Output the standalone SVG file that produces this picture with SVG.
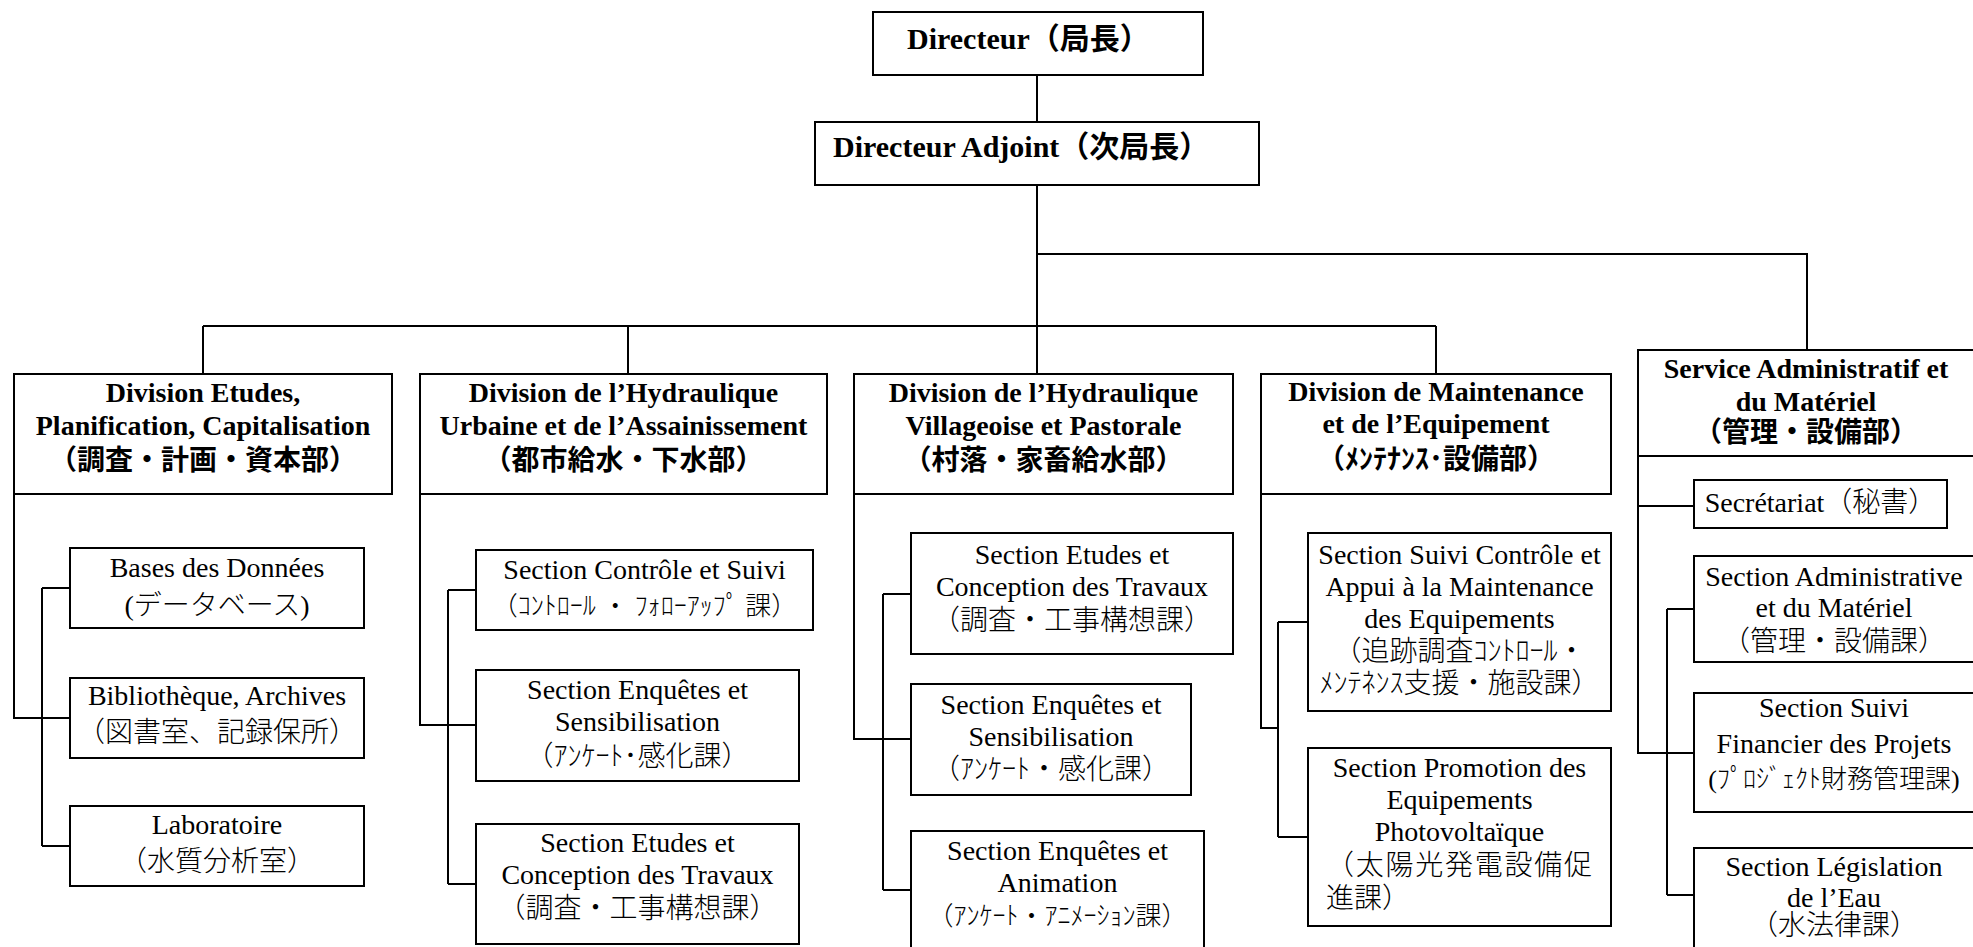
<svg xmlns="http://www.w3.org/2000/svg" width="1973" height="947" viewBox="0 0 1973 947">
<style>
.box{fill:#fff;stroke:#000;stroke-width:2}
.ln{fill:none;stroke:#000;stroke-width:2}
text{font-family:"Liberation Serif","Noto Sans CJK JP",serif;fill:#000;text-anchor:middle}
.b{font-weight:bold;font-size:28px}
.r{font-size:28px;font-weight:300}
.st{text-anchor:start}
</style>
<rect width="1973" height="947" fill="#fff"/>
<g id="connectors">
<path class="ln" d="M1037 75V122M1037 185V374M1037 254H1807V350M203 326H1436M203 326V374M628 326V374M1436 326V374"/>
<path class="ln" d="M14 494V718H70M42 588V846M42 588H70M42 846H70"/>
<path class="ln" d="M420 494V725H476M448 590V884M448 590H476M448 884H476"/>
<path class="ln" d="M854 494V739H911M883 594V890M883 594H911M883 890H911"/>
<path class="ln" d="M1261 494V728H1278M1278 622V837M1278 622H1308M1278 837H1308"/>
<path class="ln" d="M1638 456V753H1694M1638 506H1694M1667 609V895M1667 609H1694M1667 895H1694"/>
</g>
<g id="directeur"><rect class="box" x="873" y="12" width="330" height="63"/><text class="b st" x="907" y="49" style="font-size:30px">Directeur（局長）</text></g>
<g id="directeur-adjoint"><rect class="box" x="815" y="122" width="444" height="63"/><text class="b st" x="833" y="157" style="font-size:30px">Directeur Adjoint（次局長）</text></g>
<g id="div-etudes"><rect class="box" x="14" y="374" width="378" height="120"/>
<text class="b" x="203" y="402">Division Etudes,</text><text class="b" x="203" y="435">Planification, Capitalisation</text><text class="b" x="203" y="470">（調査・計画・資本部）</text></g>
<g id="div-urbaine"><rect class="box" x="420" y="374" width="407" height="120"/>
<text class="b" x="623.5" y="402">Division de l’Hydraulique</text><text class="b" x="623.5" y="435">Urbaine et de l’Assainissement</text><text class="b" x="623.5" y="470">（都市給水・下水部）</text></g>
<g id="div-villageoise"><rect class="box" x="854" y="374" width="379" height="120"/>
<text class="b" x="1043.5" y="402">Division de l’Hydraulique</text><text class="b" x="1043.5" y="435">Villageoise et Pastorale</text><text class="b" x="1043.5" y="470">（村落・家畜給水部）</text></g>
<g id="div-maintenance"><rect class="box" x="1261" y="374" width="350" height="120"/>
<text class="b" x="1436" y="401">Division de Maintenance</text><text class="b" x="1436" y="433">et de l’Equipement</text><text class="b" x="1436" y="469">（ﾒﾝﾃﾅﾝｽ･設備部）</text></g>
<g id="service-admin"><rect class="box" x="1638" y="350" width="340" height="106"/>
<text class="b" x="1806" y="378">Service Administratif et</text><text class="b" x="1806" y="411">du Matériel</text><text class="b" x="1806" y="442">（管理・設備部）</text></g>
<g id="bases-donnees"><rect class="box" x="70" y="548" width="294" height="80"/>
<text class="r" x="217" y="577">Bases des Données</text><text class="r" x="217" y="615">(データベース)</text></g>
<g id="bibliotheque"><rect class="box" x="70" y="678" width="294" height="80"/>
<text class="r" x="217" y="705">Bibliothèque, Archives</text><text class="r" x="217" y="742">（図書室、記録保所）</text></g>
<g id="laboratoire"><rect class="box" x="70" y="806" width="294" height="80"/>
<text class="r" x="217" y="834">Laboratoire</text><text class="r" x="217" y="871">（水質分析室）</text></g>
<g id="u-controle"><rect class="box" x="476" y="550" width="337" height="80"/>
<text class="r" x="644.5" y="579">Section Contrôle et Suivi</text><text class="r" x="644.5" y="615" style="font-size:26px">（ｺﾝﾄﾛｰﾙ ・ ﾌｫﾛｰｱｯﾌﾟ 課）</text></g>
<g id="u-enquetes"><rect class="box" x="476" y="670" width="323" height="111"/>
<text class="r" x="637.5" y="699">Section Enquêtes et</text><text class="r" x="637.5" y="731">Sensibilisation</text><text class="r" x="637.5" y="766">（ｱﾝｹｰﾄ･感化課）</text></g>
<g id="u-etudes"><rect class="box" x="476" y="824" width="323" height="120"/>
<text class="r" x="637.5" y="852">Section Etudes et</text><text class="r" x="637.5" y="884">Conception des Travaux</text><text class="r" x="637.5" y="918">（調査・工事構想課）</text></g>
<g id="v-etudes"><rect class="box" x="911" y="533" width="322" height="121"/>
<text class="r" x="1072" y="564">Section Etudes et</text><text class="r" x="1072" y="596">Conception des Travaux</text><text class="r" x="1072" y="630">（調査・工事構想課）</text></g>
<g id="v-enquetes"><rect class="box" x="911" y="684" width="280" height="111"/>
<text class="r" x="1051" y="714">Section Enquêtes et</text><text class="r" x="1051" y="746">Sensibilisation</text><text class="r" x="1051" y="779">（ｱﾝｹｰﾄ・感化課）</text></g>
<g id="v-animation"><rect class="box" x="911" y="831" width="293" height="130"/>
<text class="r" x="1057.5" y="860">Section Enquêtes et</text><text class="r" x="1057.5" y="892">Animation</text><text class="r" x="1057.5" y="925" style="font-size:26px">（ｱﾝｹｰﾄ・ｱﾆﾒｰｼｮﾝ課）</text></g>
<g id="m-suivi"><rect class="box" x="1308" y="533" width="303" height="178"/>
<text class="r" x="1459.5" y="564">Section Suivi Contrôle et</text><text class="r" x="1459.5" y="596">Appui à la Maintenance</text><text class="r" x="1459.5" y="628">des Equipements</text><text class="r" x="1459.5" y="661">（追跡調査ｺﾝﾄﾛｰﾙ・</text><text class="r" x="1459.5" y="693">ﾒﾝﾃﾈﾝｽ支援・施設課）</text></g>
<g id="m-promotion"><rect class="box" x="1308" y="748" width="303" height="178"/>
<text class="r" x="1459.5" y="777">Section Promotion des</text><text class="r" x="1459.5" y="809">Equipements</text><text class="r" x="1459.5" y="841">Photovoltaïque</text><text class="r st" x="1326" y="875" textLength="266" lengthAdjust="spacing">（太陽光発電設備促</text><text class="r st" x="1326" y="908">進課）</text></g>
<g id="s-secretariat"><rect class="box" x="1694" y="480" width="253" height="48"/>
<text class="r" x="1820.5" y="512">Secrétariat（秘書）</text></g>
<g id="s-administrative"><rect class="box" x="1694" y="556" width="284" height="106"/>
<text class="r" x="1834" y="586">Section Administrative</text><text class="r" x="1834" y="617">et du Matériel</text><text class="r" x="1834" y="651">（管理・設備課）</text></g>
<g id="s-financier"><rect class="box" x="1694" y="693" width="284" height="119"/>
<text class="r" x="1834" y="717">Section Suivi</text><text class="r" x="1834" y="753">Financier des Projets</text><text class="r" x="1834" y="788" style="font-size:26px">(ﾌﾟﾛｼﾞｪｸﾄ財務管理課)</text></g>
<g id="s-legislation"><rect class="box" x="1694" y="848" width="284" height="113"/>
<text class="r" x="1834" y="876">Section Législation</text><text class="r" x="1834" y="907">de l’Eau</text><text class="r" x="1834" y="935">（水法律課）</text></g>
</svg>
